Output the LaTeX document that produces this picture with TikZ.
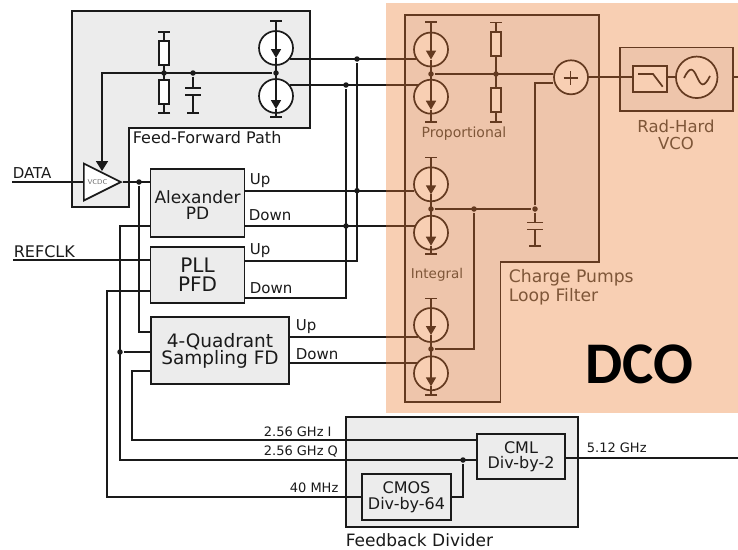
\documentclass[tikz,border=0pt]{standalone}
\usepackage{fontspec}
\setmainfont{DejaVu Sans}
\newfontfamily\dcofont{Carlito}
\usepackage{tikz}
\usetikzlibrary{arrows.meta,shapes.geometric}

\definecolor{dcobg}{HTML}{F8CFB3}
\definecolor{dcobox}{HTML}{EEC5AB}
\definecolor{dcoline}{HTML}{643A20}
\definecolor{dcotext}{HTML}{7E5638}
\definecolor{greybox}{HTML}{ECECEC}
\definecolor{wirecol}{HTML}{1A1A1A}

% current source, tee above: name, x, y, y of tee, y of joint
\newcommand{\pumpup}[5]{
    \node[pump] (#1) at (#2,#3) {};
    \coordinate (#1t) at (#2,#4);
    \coordinate (#1a) at (#2,#3+10);
    \coordinate (#1j) at (#2,#5);
    \draw [sourcearrow] (#1t) -- (#1a);
    \draw (#1a) -- (#1j);
}
% current source, tee below: name, x, y, y of joint, y of tee
\newcommand{\pumpdown}[5]{
    \node[pump] (#1) at (#2,#3) {};
    \coordinate (#1j) at (#2,#4);
    \coordinate (#1a) at (#2,#3+13);
    \coordinate (#1t) at (#2,#5);
    \draw [-{Triangle[length=9pt,width=10pt]}] (#1j) -- (#1a);
    \draw [-{Bar[width=12pt]}] (#1a) -- (#1t);
}
% resistor: name, x, y of the middle, y of the free end
\newcommand{\resist}[4]{
    \node[res] (#1) at (#2,#3) {};
    \coordinate (#1e) at (#2,#4);
    \draw [-{Bar[width=12pt]}] (#1) -- (#1e);
}

\begin{document}
\begin{tikzpicture}[x=1pt,y=-1pt,line width=1.7pt,font=\fontsize{16.5}{17}\selectfont,color=wirecol]
    \tikzset{block/.style = {shape=rectangle, draw, fill=greybox, inner sep=0pt, align=center}}
    \tikzset{pump/.style = {shape=circle, draw, fill=white, inner sep=0pt, minimum size=34pt}}
    \tikzset{res/.style = {shape=rectangle, draw, fill=white, inner sep=0pt, minimum width=10.5pt, minimum height=24pt}}
    \tikzset{dot/.style = {shape=circle, fill, inner sep=0pt, minimum size=5.5pt}}
    \tikzset{sourcearrow/.style = {{Bar[width=12pt]}-{Triangle[length=9pt,width=10pt]}}}
    \tikzset{sig/.style = {font=\fontsize{15}{15}\selectfont, inner sep=0pt, anchor=west}}
    \tikzset{freq/.style = {font=\fontsize{13}{13}\selectfont, inner sep=0pt, anchor=west}}
    \tikzset{note/.style = {inner sep=0pt, anchor=west, align=left}}

    \useasboundingbox (0,0) rectangle (738,549);
    \fill [white] (0,0) rectangle (738,549);

    % grey panels
    \draw [fill=greybox] (72,11) -- (310,11) -- (310,128) -- (129,128) -- (129,207) -- (72,207) -- cycle;
    \draw [fill=greybox] (346,417) rectangle (578,527);

    % DCO area
    \fill [dcobg] (386,3) rectangle (738,413);
    \draw [draw=dcoline, fill=dcobox] (405,15) -- (599,15) -- (599,262) -- (500.5,262) -- (500.5,402) -- (405,402) -- cycle;

    % blocks
    \node[block, minimum width=94pt, minimum height=68pt, font=\fontsize{17}{16}\selectfont] (alex) at (197.5,203) {\rule{0pt}{17pt}Alexander\\PD};
    \node[block, minimum width=94pt, minimum height=56pt, font=\fontsize{20}{19}\selectfont] (pfd) at (197.5,275) {PLL\\PFD};
    \node[block, minimum width=138pt, minimum height=67pt, font=\fontsize{18.5}{17}\selectfont] (sampling) at (220,350.5) {4-Quadrant\\Sampling FD};
    \node[block, minimum width=88pt, minimum height=45pt, font=\fontsize{16}{15.5}\selectfont] (cml) at (521,456.5) {CML\\Div-by-2};
    \node[block, minimum width=89pt, minimum height=46pt, font=\fontsize{16}{15.5}\selectfont] (cmos) at (406.5,497) {CMOS\\Div-by-64};
    \node[shape=isosceles triangle, isosceles triangle stretches, draw, fill=white, inner sep=0pt,
          minimum width=37pt, minimum height=37pt, anchor=lower side, text=black!60,
          font=\fontsize{7}{7}\sffamily\selectfont] (vcdc) at (83,182) {VCDC};

    % feed-forward path
    \pumpup{ffup}{276}{48}{20}{73}
    \pumpdown{ffdn}{276}{96}{73}{118}
    \resist{ffra}{164}{53}{31}
    \resist{ffrb}{164}{92}{114}
    \node[dot] (ffj) at (276,73) {};
    \node[dot] (ffr) at (164,73) {};
    \node[dot] (ffc) at (193,73) {};
    \coordinate (ffca) at (193,89);
    \coordinate (ffcb) at (193,94);
    \coordinate (ffce) at (193,114);
    \draw [-{Bar[width=16pt]}] (ffc) -- (ffca);
    \draw [{Bar[width=16pt]}-{Bar[width=12pt]}] (ffcb) -- (ffce);
    \draw (ffra) -- (ffrb);
    \coordinate (vcdcctl) at (102,171);
    \draw [-{Triangle[length=10pt,width=12pt]}] (ffj) -| (vcdcctl);

    % charge pumps and loop filter
    \begin{scope}[color=dcoline, pump/.append style={fill=dcobg}, res/.append style={fill=dcobg}]
        \pumpup{cpa}{431}{49.5}{21}{74}
        \pumpdown{cpb}{431}{96.7}{74}{122.7}
        \pumpup{cpc}{431}{184.3}{156.7}{209}
        \pumpdown{cpd}{431}{232.7}{209}{255}
        \pumpup{cpe}{431}{325}{297.7}{349}
        \pumpdown{cpf}{431}{373.3}{349}{395.7}
        \resist{fra}{496}{44}{21.7}
        \resist{frb}{496}{100.3}{122.7}
        \node[dot] (cpj) at (431,74) {};
        \node[dot] (frj) at (496,74) {};
        \node[dot] (cpk) at (431,209) {};
        \node[dot] (intj) at (474,209) {};
        \node[dot] (capj) at (535,209) {};
        \node[dot] (cpl) at (431,349) {};
        \node[pump, minimum size=34pt] (sum) at (571,77.3) {};
        \draw (fra) -- (frb);
        \draw (cpj) -- (sum.170 |- cpj);
        \draw (cpk) -- (capj);
        \draw (cpl) -| (intj);
        \coordinate (sumin) at (535,83);
        \draw (capj) -- (sumin) -- (sum.190 |- sumin);
        \coordinate (capa) at (535,223.3);
        \coordinate (capb) at (535,228.7);
        \coordinate (cape) at (535,247);
        \draw [-{Bar[width=16pt]}] (capj) -- (capa);
        \draw [{Bar[width=16pt]}-{Bar[width=12pt]}] (capb) -- (cape);
        % plus sign
        \coordinate (sumw) at (563.5,78);
        \coordinate (sume) at (577.5,78);
        \coordinate (sumn) at (570.5,71);
        \coordinate (sums) at (570.5,85);
        \draw (sumw) -- (sume);
        \draw (sumn) -- (sums);

        % VCO
        \node[draw, fill=dcobox, inner sep=0pt, minimum width=113pt, minimum height=63.4pt] (vco) at (676.3,79.3) {};
        \node[draw, fill=dcobg, inner sep=0pt, minimum width=33.5pt, minimum height=26.5pt] (lpf) at (650,79) {};
        \node[draw, fill=dcobg, shape=circle, inner sep=0pt, minimum size=41.5pt] (osc) at (696.7,77.3) {};
        \draw (sum.east) -- (lpf.west |- sum.east);
        \draw (lpf.east |- osc.west) -- (osc.west);
        \coordinate (vcoout) at (738,77.3);
        \draw (vco.east |- vcoout) -- (vcoout);
        \coordinate (lpfa) at (638,74);
        \coordinate (lpfb) at (653,74);
        \coordinate (lpfc) at (662.7,86.7);
        \draw (lpfa) -- (lpfb) -- (lpfc);
        \coordinate (sinea) at (684,78);
        \coordinate (sineb) at (697,77);
        \coordinate (sinec) at (710,76);
        \draw (sinea) .. controls (690,66) and (693,68) .. (sineb) .. controls (701,86) and (704,88) .. (sinec);
    \end{scope}

    % feedback signals into the charge pumps
    \coordinate (edgea) at (386,59);
    \coordinate (edgeb) at (386,85);
    \coordinate (edgec) at (386,190.7);
    \coordinate (edged) at (386,226);
    \coordinate (edgee) at (386,337);
    \coordinate (edgef) at (386,363);
    \draw [draw=dcoline] (edgea) -- (cpa.214 |- edgea);
    \draw [draw=dcoline] (edgeb) -- (cpb.137 |- edgeb);
    \draw [draw=dcoline] (edgec) -- (cpc.202 |- edgec);
    \draw [draw=dcoline] (edged) -- (cpd.157 |- edged);
    \draw [draw=dcoline] (edgee) -- (cpe.223 |- edgee);
    \draw [draw=dcoline] (edgef) -- (cpf.144 |- edgef);
    \node[dot] (upa) at (357,59) {};
    \node[dot] (dna) at (346,85) {};
    \node[dot] (upb) at (357,190.7) {};
    \node[dot] (dnb) at (346,226) {};
    \draw (ffup.-40 |- edgea) -- (edgea);
    \draw (ffdn.40 |- edgeb) -- (edgeb);
    \draw ([yshift=12.3pt]alex.east) -- (edgec);
    \draw ([yshift=-23pt]alex.east) -- (edged);
    \draw ([yshift=14pt]pfd.east) -| (upa);
    \draw ([yshift=-22.7pt]pfd.east) -| (dna);
    \draw ([yshift=13.5pt]sampling.east) -- (edgee);
    \draw ([yshift=-12.5pt]sampling.east) -- (edgef);

    % inputs
    \coordinate (datain) at (12,182);
    \coordinate (refin) at (13,260.3);
    \node[dot] (datadot) at (139,182) {};
    \draw (datain) -- (vcdc.lower side);
    \draw (vcdc.apex) -- ([yshift=21pt]alex.west);
    \draw (datadot) |- ([yshift=18.5pt]sampling.west);
    \draw (refin) -- ([yshift=14.7pt]pfd.west);

    % divider outputs
    \coordinate (qcorner) at (120,460);
    \coordinate (icorner) at (132,440);
    \coordinate (lowcorner) at (107,497);
    \coordinate (fbout) at (738,458);
    \node[dot] (qdot) at (120,352) {};
    \node[dot] (qj) at (463,460) {};
    \draw ([yshift=-23pt]alex.west) -| (qcorner) -- ([yshift=-3.5pt]cml.west);
    \draw (qdot) -- ([yshift=-1.5pt]sampling.west);
    \draw ([yshift=-20.5pt]sampling.west) -| (icorner) -- ([yshift=16.5pt]cml.west);
    \draw ([yshift=-16pt]pfd.west) -| (lowcorner) -- (cmos.west);
    \draw (cmos.east) -| (qj);
    \draw ([yshift=-1.5pt]cml.east) -- (fbout);

    % labels
    \node[note, font=\fontsize{16}{17}\selectfont] (fflabel) at (132,138) {Feed-Forward Path};
    \node[sig] (datalabel) at (12,173.5) {DATA};
    \node[sig, font=\fontsize{16}{16}\selectfont] (reflabel) at (13,251.5) {REFCLK};
    \node[sig] (alexup) at (249,180.5) {Up};
    \node[sig] (alexdn) at (248,215) {Down};
    \node[sig] (pfdup) at (249,251) {Up};
    \node[sig] (pfddn) at (249,288) {Down};
    \node[sig] (fdup) at (295,327) {Up};
    \node[sig] (fddn) at (295,354) {Down};
    \node[freq] (ilabel) at (263,431.5) {2.56 GHz I};
    \node[freq] (qlabel) at (263,451.5) {2.56 GHz Q};
    \node[freq] (mhzlabel) at (289,488) {40 MHz};
    \node[freq] (ghzlabel) at (586,448) {5.12 GHz};
    \node[note, font=\fontsize{17}{17}\selectfont] (fblabel) at (345,540) {Feedback Divider};
    \node[inner sep=0pt, text=dcotext, font=\fontsize{14}{14}\selectfont] (proplabel) at (464,134) {Proportional};
    \node[inner sep=0pt, text=dcotext, font=\fontsize{13.5}{14}\selectfont] (intlabel) at (437,275) {Integral};
    \node[note, text=dcotext, font=\fontsize{17.2}{19}\selectfont] (pumplabel) at (508,287) {Charge Pumps\\Loop Filter};
    \node[inner sep=0pt, align=center, text=dcotext] (vcolabel) at (676,135) {Rad-Hard\\VCO};
    \node[inner sep=0pt, text=black, font=\dcofont\bfseries\fontsize{59}{59}\selectfont] (dcolabel) at (639,364) {DCO};
\end{tikzpicture}
\end{document}
